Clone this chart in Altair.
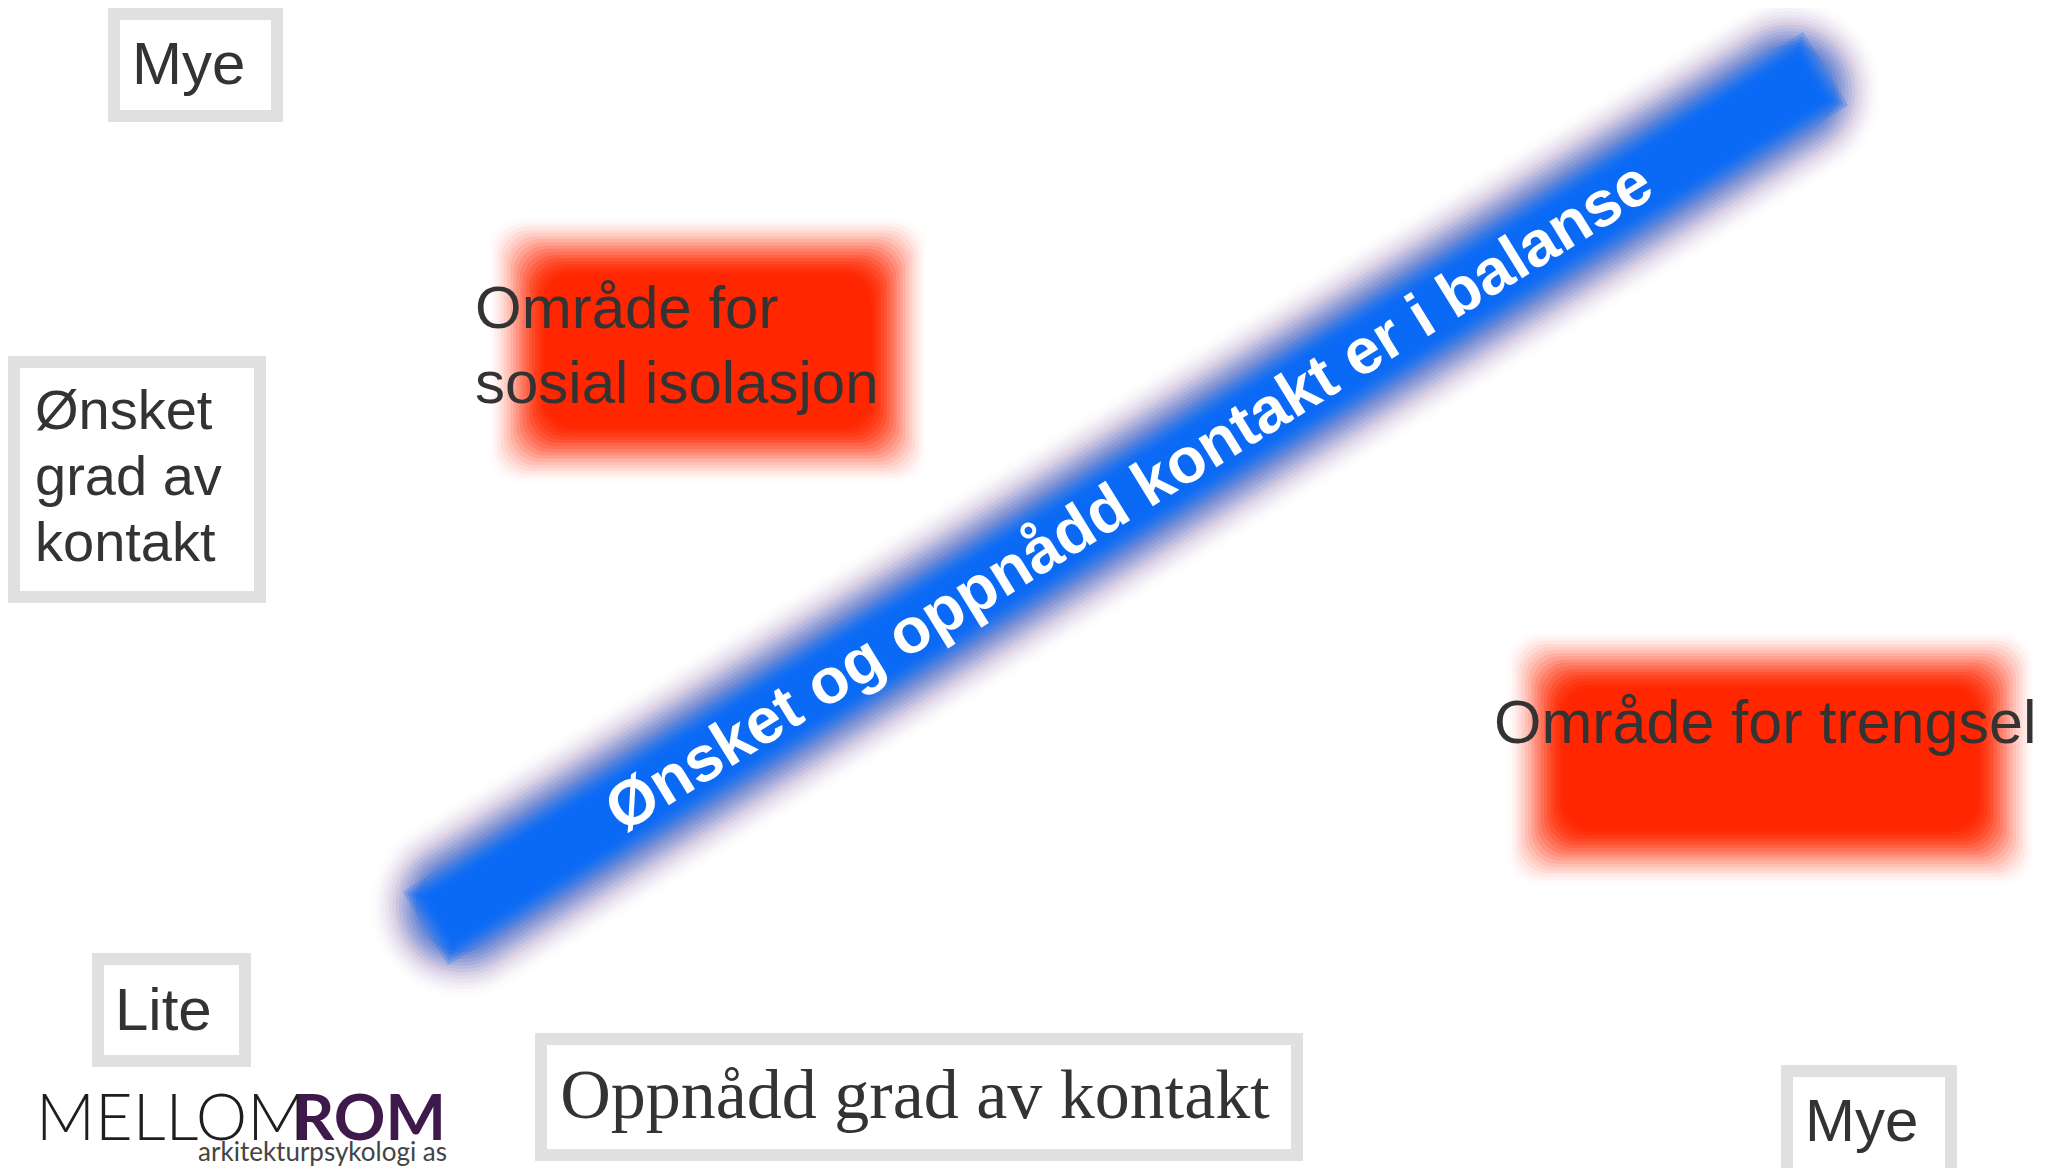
import altair as alt
import numpy as np
import pandas as pd

# ---------------- data (diagram positions in page pixels) ----------------
# framed labels (outer edge of the grey frame)
box_names = ["mye_top", "onsket", "lite", "oppnadd", "mye_right"]
box_x0 = [108, 8, 92, 535, 1781]
box_x1 = [283, 266, 251, 1303, 1957]
box_y0 = [8, 356, 953, 1033, 1065]
box_y1 = [122, 603, 1067, 1161, 1182]

# blurred red zones (nominal edges)
zone_names = ["sosial isolasjon", "trengsel"]
zone_x0 = [518, 1536]
zone_x1 = [898, 2005]
zone_y0 = [247, 661]
zone_y1 = [454, 856]

# blue balance band (centre line)
band_x = [462, 1789]
band_y = [906, 91]

# texts
sans_texts = ["Mye", "Ønsket\ngrad av\nkontakt", "Lite", "Mye",
              "Område for\nsosial isolasjon", "Område for trengsel"]
sans_x = [132, 35, 115, 1805, 475, 1494]
sans_y = [84, 429, 1030, 1141, 328, 743]
sans_size = [60, 56, 60, 60, 60, 61]
sans_lh = [60, 66, 60, 60, 75, 60]

serif_text = "Oppnådd grad av kontakt"
serif_x = 915
serif_y = 1118

band_text = "Ønsket og oppnådd kontakt er i balanse"
band_text_x = 1130
band_text_y = 498

logo_main = "MELLOM"
logo_bold = "ROM"
logo_sub = "arkitekturpsykologi as"
logo_x = [36, 446, 447]
logo_y = [1140, 1140, 1161]

# ---------------- helpers ----------------
W, H = 2047, 1160
M = 8
xs = alt.Scale(domain=[M, M + W])
ys = alt.Scale(domain=[M, M + H], reverse=True)


def ramp(n):
    A = [0.0]
    for m in range(1, n + 1):
        t = m / n
        A.append(t * t * (3 - 2 * t))
    a = []
    for m in range(1, n + 1):
        if A[m - 1] >= 1:
            a.append(1.0)
        else:
            a.append(1 - (1 - A[m]) / (1 - A[m - 1]))
    return a


# blurred rects
N = 20
SPREAD = 30
exps = np.linspace(SPREAD, -SPREAD, N)
alphas = ramp(N)
rows = []
for i in range(len(zone_names)):
    for e, a in zip(exps, alphas):
        rows.append(dict(x=zone_x0[i] - e, x2=zone_x1[i] + e,
                         y=zone_y0[i] - e, y2=zone_y1[i] + e,
                         c="#ff2600", o=a))
zone_df = pd.DataFrame(rows)

zones = alt.Chart(zone_df).mark_rect(cornerRadius=30).encode(
    x=alt.X("x:Q", scale=xs, axis=None),
    x2="x2:Q",
    y=alt.Y("y:Q", scale=ys, axis=None),
    y2="y2:Q",
    color=alt.Color("c:N", scale=None),
    opacity=alt.Opacity("o:Q", scale=None),
)

# blurred band
BAND_W = 116
BN = 22
BSPREAD = 35
bexps = np.linspace(BSPREAD, -BSPREAD, BN)
balphas = ramp(BN)
brows = []
for e, a in zip(bexps, balphas):
    if e > 11:
        col = "#8a62ae"
    elif e > -9:
        col = "#3560cc"
    else:
        col = "#0a6af5"
    brows.append(dict(x=band_x[0], x2=band_x[1], y=band_y[0], y2=band_y[1],
                      w=BAND_W + 2 * e, c=col, o=a, outer=e > -14))
band_df = pd.DataFrame(brows)


def band_layer(df, cap):
    return alt.Chart(df).mark_rule(strokeCap=cap).encode(
        x=alt.X("x:Q", scale=xs, axis=None),
        x2="x2:Q",
        y=alt.Y("y:Q", scale=ys, axis=None),
        y2="y2:Q",
        color=alt.Color("c:N", scale=None),
        opacity=alt.Opacity("o:Q", scale=None),
        strokeWidth=alt.StrokeWidth("w:Q", scale=None),
    )


band_outer = band_layer(band_df[band_df["outer"]].drop(columns="outer"), "round")
band_inner = band_layer(band_df[~band_df["outer"]].drop(columns="outer"), "square")

# frames
BORDER = 12
frows = []
for i in range(len(box_names)):
    frows.append(dict(x=box_x0[i], x2=box_x1[i], y=box_y0[i], y2=box_y1[i], c="#e0e0e0"))
    frows.append(dict(x=box_x0[i] + BORDER, x2=box_x1[i] - BORDER,
                      y=box_y0[i] + BORDER, y2=box_y1[i] - BORDER, c="#ffffff"))
frame_df = pd.DataFrame(frows)
frames = alt.Chart(frame_df).mark_rect().encode(
    x=alt.X("x:Q", scale=xs, axis=None),
    x2="x2:Q",
    y=alt.Y("y:Q", scale=ys, axis=None),
    y2="y2:Q",
    color=alt.Color("c:N", scale=None),
)


def text_layer(t, x, y, **kw):
    df = pd.DataFrame(dict(t=[t], x=[x], y=[y]))
    return alt.Chart(df).mark_text(**kw).encode(
        x=alt.X("x:Q", scale=xs, axis=None),
        y=alt.Y("y:Q", scale=ys, axis=None),
        text="t:N",
    )


texts = []
for t, x, y, s, lh in zip(sans_texts, sans_x, sans_y, sans_size, sans_lh):
    texts.append(text_layer(t, x, y, font="Liberation Sans", fontSize=s,
                            lineHeight=lh, lineBreak="\n", color="#333333",
                            align="left", baseline="alphabetic"))

texts.append(text_layer(serif_text, serif_x, serif_y, font="Liberation Serif",
                        fontSize=70, color="#333333", align="center",
                        baseline="alphabetic"))

texts.append(text_layer(band_text, band_text_x, band_text_y, font="Liberation Sans",
                        fontWeight="bold", fontSize=64, color="#ffffff",
                        angle=328.3, align="center", baseline="middle"))

texts.append(text_layer(logo_main, logo_x[0], logo_y[0], font="Lato",
                        fontWeight=300, fontSize=65, color="#1e1e1e",
                        align="left", baseline="alphabetic"))
texts.append(text_layer(logo_bold, logo_x[1], logo_y[1], font="Lato",
                        fontWeight="bold", fontSize=64, color="#3d1a4b",
                        align="right", baseline="alphabetic"))
texts.append(text_layer(logo_sub, logo_x[2], logo_y[2], font="Lato",
                        fontSize=26, color="#444444",
                        align="right", baseline="alphabetic"))

chart = alt.layer(zones, band_outer, band_inner, frames, *texts).properties(
    width=W, height=H, padding=0,
    autosize=alt.AutoSizeParams(type="none"),
    background="#ffffff",
).configure_view(strokeWidth=0)

chart.save("out.html", embed_options={"renderer": "svg", "actions": False})
